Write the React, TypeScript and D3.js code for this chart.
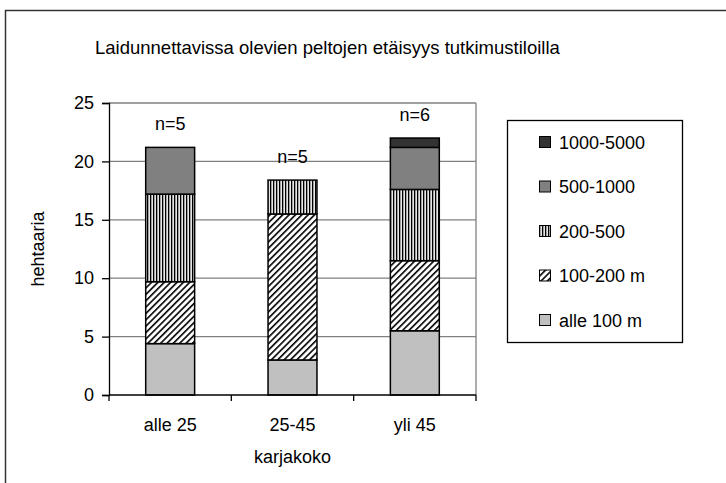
import React, { useEffect, useRef } from 'react';
import * as d3 from 'd3';

// herd size groups
const categories = ['alle 25', '25-45', 'yli 45'];
// distance classes, bottom to top of the stack
const series = ['alle 100 m', '100-200 m', '200-500', '500-1000', '1000-5000'];
// hectares per class, one array per class (same order as categories)
const alle100 = [4.4, 3.0, 5.5];
const m100to200 = [5.3, 12.5, 6.0];
const m200to500 = [7.5, 2.9, 6.1];
const m500to1000 = [4.0, 0, 3.6];
const m1000to5000 = [0, 0, 0.8];
const nLabels = ['n=5', 'n=5', 'n=6'];
const yTicks = [0, 5, 10, 15, 20, 25];

const width = 726;
const height = 483;
const FONT = '"Liberation Sans", Arial, sans-serif';

const App: React.FC = () => {
    const svgRef = useRef<SVGSVGElement>(null);

    useEffect(() => {
        if (!svgRef.current) return;
        const svg = d3.select(svgRef.current);
        svg.selectAll('*').remove();

        const values = [alle100, m100to200, m200to500, m500to1000, m1000to5000];
        const rows = categories.map((c, i) => {
            const row: any = { cat: c };
            series.forEach((s, j) => { row[s] = values[j][i]; });
            return row;
        });
        const stacked = d3.stack<any>().keys(series)(rows);

        const plot = { left: 109, right: 476, top: 103, bottom: 395 };

        const x = d3.scaleBand<string>()
            .domain(categories)
            .range([plot.left, plot.right])
            .padding(0);
        const barW = x.bandwidth() * 0.4;

        const y = d3.scaleLinear()
            .domain([0, 25])
            .range([plot.bottom, plot.top]);

        // hatch patterns
        const defs = svg.append('defs');
        const diag = defs.append('pattern')
            .attr('id', 'diag')
            .attr('patternUnits', 'userSpaceOnUse')
            .attr('width', 4.5)
            .attr('height', 4.5)
            .attr('patternTransform', 'rotate(45)');
        diag.append('rect').attr('width', 4.5).attr('height', 4.5).attr('fill', '#fff');
        diag.append('rect').attr('width', 1.6).attr('height', 4.5).attr('fill', '#000');

        const vert = defs.append('pattern')
            .attr('id', 'vert')
            .attr('patternUnits', 'userSpaceOnUse')
            .attr('width', 3)
            .attr('height', 3);
        vert.append('rect').attr('width', 3).attr('height', 3).attr('fill', '#e6e6e6');
        vert.append('rect').attr('width', 1.3).attr('height', 3).attr('fill', '#000');

        const fills: Record<string, string> = {
            'alle 100 m': '#c0c0c0',
            '100-200 m': 'url(#diag)',
            '200-500': 'url(#vert)',
            '500-1000': '#808080',
            '1000-5000': '#333333',
        };

        svg.append('rect')
            .attr('width', width)
            .attr('height', height)
            .attr('fill', '#fff');

        // outer chart frame
        svg.append('rect')
            .attr('x', 5.5)
            .attr('y', 10.5)
            .attr('width', width + 20)
            .attr('height', height + 20)
            .attr('fill', 'none')
            .attr('stroke', '#333')
            .attr('stroke-width', 1.5);

        svg.append('text')
            .attr('x', 95)
            .attr('y', 54)
            .attr('font-family', FONT)
            .attr('font-size', 18.5)
            .attr('fill', '#000')
            .text('Laidunnettavissa olevien peltojen etäisyys tutkimustiloilla');

        // gridlines
        svg.append('g')
            .selectAll('line')
            .data(yTicks.filter(t => t > 0))
            .join('line')
            .attr('x1', plot.left)
            .attr('x2', plot.right)
            .attr('y1', d => y(d))
            .attr('y2', d => y(d))
            .attr('stroke', '#808080')
            .attr('stroke-width', 1.3);

        // plot area right edge
        svg.append('line')
            .attr('x1', plot.right).attr('x2', plot.right)
            .attr('y1', plot.top).attr('y2', plot.bottom)
            .attr('stroke', '#808080')
            .attr('stroke-width', 1.3);

        // bars
        const layers = svg.append('g')
            .selectAll('g')
            .data(stacked)
            .join('g')
            .attr('fill', d => fills[d.key]);

        layers.selectAll('rect')
            .data(d => d.filter(s => s[1] - s[0] > 0))
            .join('rect')
            .attr('x', d => (x(d.data.cat) as number) + x.bandwidth() * 0.3)
            .attr('width', barW)
            .attr('y', d => y(d[1]))
            .attr('height', d => y(d[0]) - y(d[1]))
            .attr('stroke', '#000')
            .attr('stroke-width', 1.5);

        // n labels above the bars
        const totals = categories.map((_, i) => d3.sum(values, v => v[i]));
        svg.append('g')
            .selectAll('text')
            .data(nLabels)
            .join('text')
            .attr('x', (_, i) => (x(categories[i]) as number) + x.bandwidth() / 2)
            .attr('y', (_, i) => y(totals[i]) - 17)
            .attr('text-anchor', 'middle')
            .attr('font-family', FONT)
            .attr('font-size', 18)
            .text(d => d);

        // y axis
        const yAxis = svg.append('g')
            .attr('transform', `translate(${plot.left},0)`)
            .call(d3.axisLeft(y).tickValues(yTicks).tickSize(7).tickPadding(8).tickFormat(d3.format('d')));
        yAxis.select('.domain').attr('stroke', '#000').attr('stroke-width', 1.3);
        yAxis.selectAll('.tick line').attr('stroke', '#000').attr('stroke-width', 1.3);
        yAxis.selectAll('.tick text')
            .attr('font-family', FONT)
            .attr('font-size', 18)
            .attr('fill', '#000');

        // x axis
        svg.append('line')
            .attr('x1', plot.left).attr('x2', plot.right)
            .attr('y1', plot.bottom).attr('y2', plot.bottom)
            .attr('stroke', '#000')
            .attr('stroke-width', 1.3);
        const bounds = categories.map(c => x(c) as number).concat([plot.right]);
        svg.append('g')
            .selectAll('line')
            .data(bounds)
            .join('line')
            .attr('x1', d => d).attr('x2', d => d)
            .attr('y1', plot.bottom).attr('y2', plot.bottom + 6)
            .attr('stroke', '#000')
            .attr('stroke-width', 1.3);
        svg.append('g')
            .selectAll('text')
            .data(categories)
            .join('text')
            .attr('x', d => (x(d) as number) + x.bandwidth() / 2)
            .attr('y', 431)
            .attr('text-anchor', 'middle')
            .attr('font-family', FONT)
            .attr('font-size', 18)
            .text(d => d);

        svg.append('text')
            .attr('x', (plot.left + plot.right) / 2)
            .attr('y', 463)
            .attr('text-anchor', 'middle')
            .attr('font-family', FONT)
            .attr('font-size', 18)
            .text('karjakoko');

        svg.append('text')
            .attr('transform', `translate(44,${(plot.top + plot.bottom) / 2}) rotate(-90)`)
            .attr('text-anchor', 'middle')
            .attr('font-family', FONT)
            .attr('font-size', 18)
            .text('hehtaaria');

        // legend
        const legend = svg.append('g');
        legend.append('rect')
            .attr('x', 507.5)
            .attr('y', 120.5)
            .attr('width', 175)
            .attr('height', 222)
            .attr('fill', '#fff')
            .attr('stroke', '#000')
            .attr('stroke-width', 1.3);
        const legendItems = series.slice().reverse();
        const ly = d3.scalePoint<string>()
            .domain(legendItems)
            .range([142, 320]);
        const item = legend.selectAll('g.item')
            .data(legendItems)
            .join('g')
            .attr('class', 'item')
            .attr('transform', d => `translate(539,${ly(d)})`);
        item.append('rect')
            .attr('x', 0.5)
            .attr('y', -5.5)
            .attr('width', 11)
            .attr('height', 11)
            .attr('fill', d => fills[d])
            .attr('stroke', '#000')
            .attr('stroke-width', 1);
        item.append('text')
            .attr('x', 20)
            .attr('y', 6.5)
            .attr('font-family', FONT)
            .attr('font-size', 18)
            .text(d => d);
    }, []);

    return (
        <svg
            ref={svgRef}
            width={width}
            height={height}
            style={{ position: 'absolute', left: 0, top: 0 }}
        />
    );
};

export default App;
